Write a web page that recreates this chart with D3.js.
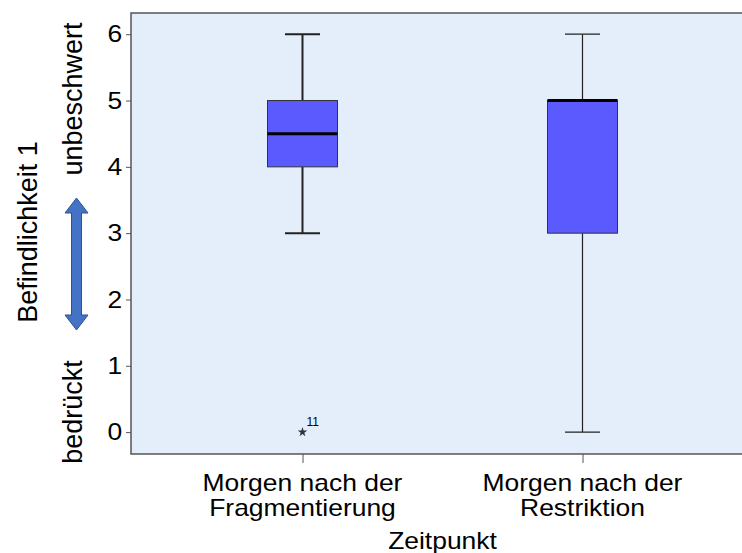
<!DOCTYPE html>
<html>
<head>
<meta charset="utf-8">
<script src="https://cdn.jsdelivr.net/npm/d3@7"></script>
<style>
  body { margin: 0; background: #fff; }
  text { font-family: "Liberation Sans", Arial, sans-serif; fill: #000; }
</style>
</head>
<body>
<svg id="chart" width="742" height="553"></svg>
<script>
// data
const categories = ["Morgen nach der\nFragmentierung", "Morgen nach der\nRestriktion"];
const whiskerLow = [3, 0];
const q1 = [4, 3];
const medians = [4.5, 5];
const q3 = [5, 5];
const whiskerHigh = [6, 6];
const outliers = [{ cat: 0, value: 0, label: "11" }];
const yTicks = [0, 1, 2, 3, 4, 5, 6];

const svg = d3.select("#chart");
const plotL = 131, plotR = 754, plotT = 13, plotB = 454;
const wide = "scale(1.15,1)"; // the source glyphs are wider than Liberation Sans

const y = d3.scaleLinear().domain([-0.33, 6.32]).range([plotB, plotT]);
const x = d3.scalePoint().domain(categories).range([plotL, plotR]).padding(0.6125);
const boxW = 70, capW = 35;

// plot background
svg.append("rect")
    .attr("x", plotL).attr("y", plotT)
    .attr("width", plotR - plotL).attr("height", plotB - plotT)
    .attr("fill", "#e3eefa")
    .attr("stroke", "#555")
    .attr("stroke-width", 1.5);

// y axis
const yAxis = svg.append("g")
    .attr("transform", `translate(${plotL},0)`)
    .call(d3.axisLeft(y).tickValues(yTicks).tickSize(5).tickPadding(3).tickFormat(d3.format("d")));
yAxis.select(".domain").remove();
yAxis.selectAll("line").attr("stroke", "#555");
yAxis.selectAll("text")
    .style("font-size", "24px")
    .attr("fill", "#000")
    .attr("transform", "scale(1.1,1)");

// x axis
const xAxis = svg.append("g")
    .attr("transform", `translate(0,${plotB})`)
    .call(d3.axisBottom(x).tickSize(9).tickFormat(""));
xAxis.select(".domain").remove();
xAxis.selectAll("line").attr("stroke", "#555");

categories.forEach(c => {
    const t = svg.append("text")
        .attr("transform", `translate(${x(c)},0) ${wide}`)
        .attr("text-anchor", "middle")
        .style("font-size", "23px");
    c.split("\n").forEach((line, i) => {
        t.append("tspan").attr("x", 0).attr("y", 491 + i * 25).text(line);
    });
});

svg.append("text")
    .attr("transform", `translate(${(x(categories[0]) + x(categories[1])) / 2},549) ${wide}`)
    .attr("text-anchor", "middle")
    .style("font-size", "23px")
    .text("Zeitpunkt");

// y titles
svg.append("text")
    .attr("transform", "translate(37,232) rotate(-90)")
    .attr("text-anchor", "middle")
    .style("font-size", "27px")
    .text("Befindlichkeit 1");
svg.append("text")
    .attr("transform", "translate(82,99) rotate(-90)")
    .attr("text-anchor", "middle")
    .style("font-size", "27px")
    .text("unbeschwert");
svg.append("text")
    .attr("transform", "translate(82,412) rotate(-90)")
    .attr("text-anchor", "middle")
    .style("font-size", "27px")
    .text("bedrückt");

// double arrow
const ax = 76.5, aTop = 198, aBot = 330, shaft = 5, head = 11.5, headH = 15;
const arrow = d3.path();
arrow.moveTo(ax, aTop);
arrow.lineTo(ax + head, aTop + headH);
arrow.lineTo(ax + shaft, aTop + headH);
arrow.lineTo(ax + shaft, aBot - headH);
arrow.lineTo(ax + head, aBot - headH);
arrow.lineTo(ax, aBot);
arrow.lineTo(ax - head, aBot - headH);
arrow.lineTo(ax - shaft, aBot - headH);
arrow.lineTo(ax - shaft, aTop + headH);
arrow.lineTo(ax - head, aTop + headH);
arrow.closePath();
svg.append("path")
    .attr("d", arrow.toString())
    .attr("fill", "#4472c4")
    .attr("stroke", "#2f528f")
    .attr("stroke-width", 1);

// boxes
const boxes = svg.append("g");
categories.forEach((c, i) => {
    const cx = x(c);
    const sw = i === 0 ? 2 : 1.2;
    const g = boxes.append("g");
    // whiskers
    g.append("line")
        .attr("x1", cx).attr("x2", cx)
        .attr("y1", y(whiskerHigh[i])).attr("y2", y(q3[i]))
        .attr("stroke", "#222").attr("stroke-width", sw);
    g.append("line")
        .attr("x1", cx).attr("x2", cx)
        .attr("y1", y(q1[i])).attr("y2", y(whiskerLow[i]))
        .attr("stroke", "#222").attr("stroke-width", sw);
    [whiskerHigh[i], whiskerLow[i]].forEach(v => {
        g.append("line")
            .attr("x1", cx - capW / 2).attr("x2", cx + capW / 2)
            .attr("y1", y(v)).attr("y2", y(v))
            .attr("stroke", "#222").attr("stroke-width", sw);
    });
    g.append("rect")
        .attr("x", cx - boxW / 2).attr("y", y(q3[i]))
        .attr("width", boxW).attr("height", y(q1[i]) - y(q3[i]))
        .attr("fill", "#5a5aff")
        .attr("stroke", "#333")
        .attr("stroke-width", 1);
    g.append("line")
        .attr("x1", cx - boxW / 2).attr("x2", cx + boxW / 2)
        .attr("y1", y(medians[i])).attr("y2", y(medians[i]))
        .attr("stroke", "#000").attr("stroke-width", 3);
});

// outliers
outliers.forEach(o => {
    const cx = x(categories[o.cat]);
    svg.append("path")
        .attr("transform", `translate(${cx},${y(o.value)})`)
        .attr("d", d3.symbol(d3.symbolStar, 28)())
        .attr("fill", "#333");
    svg.append("text")
        .attr("x", cx + 4).attr("y", y(o.value) - 6)
        .style("font-size", "12px")
        .text(o.label);
});
</script>
</body>
</html>
